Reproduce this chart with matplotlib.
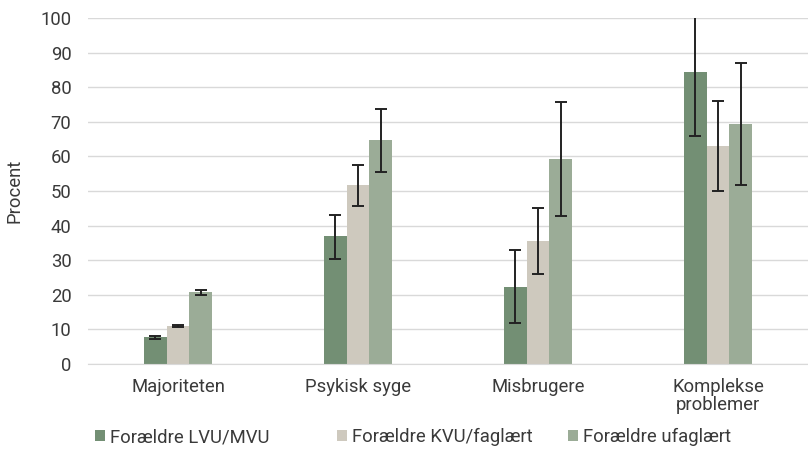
import matplotlib
matplotlib.use("Agg")
import matplotlib.pyplot as plt
import numpy as np

plt.rcParams['font.family'] = ['Roboto', 'DejaVu Sans']

categories = ["Majoriteten", "Psykisk syge", "Misbrugere", "Komplekse\nproblemer"]
series_names = ["Forældre LVU/MVU", "Forældre KVU/faglært", "Forældre ufaglært"]
values = [
    [7.7, 37.0, 22.3, 84.4],
    [11.0, 51.7, 35.6, 63.0],
    [20.7, 64.7, 59.2, 69.3],
]
err_low = [
    [7.3, 30.5, 11.8, 65.9],
    [10.6, 45.8, 26.0, 50.0],
    [19.9, 55.5, 42.8, 51.7],
]
err_high = [
    [8.2, 43.0, 33.0, 102.9],
    [11.4, 57.5, 45.2, 76.1],
    [21.5, 73.7, 75.7, 87.1],
]
colors = ["#738F74", "#CEC9BE", "#9BAC97"]
text_color = "#3A3A3A"
fs = 13.3

fig = plt.figure(figsize=(8.08, 4.5), dpi=100)
ax = fig.add_axes([0.109, 0.191, 0.891, 0.769])

x = np.arange(len(categories))
w = 0.127
bars = []
for i in range(3):
    v = np.array(values[i])
    lo = v - np.array(err_low[i])
    hi = np.array(err_high[i]) - v
    b = ax.bar(x + (i - 1) * w, v, width=w, color=colors[i], label=series_names[i], zorder=2)
    bars.append(b)
    ax.errorbar(x + (i - 1) * w, v, yerr=[lo, hi], fmt='none', ecolor='#222222',
                elinewidth=1.4, capsize=4.5, capthick=1.4, zorder=3)

ax.set_xlim(-0.5, 3.5)
ax.set_ylim(0, 100)
ax.set_yticks(np.arange(0, 101, 10))
ax.set_xticks(x)
ax.set_xticklabels(categories, linespacing=1.0)
ax.yaxis.grid(True, color="#D9D9D9", linewidth=1, zorder=0)
ax.set_axisbelow(True)
for s in ["top", "right", "left"]:
    ax.spines[s].set_visible(False)
ax.spines["bottom"].set_color("#D9D9D9")
ax.tick_params(axis='both', length=0, labelsize=fs, colors=text_color)
ax.tick_params(axis='x', pad=10)
ax.tick_params(axis='y', pad=12)
ax.set_ylabel("Procent", fontsize=fs, color=text_color, labelpad=12)

leg_x = [95, 337, 568]
for i in range(3):
    fig.legend([bars[i]], [series_names[i]], loc='center left',
               bbox_to_anchor=(leg_x[i] / 808, 1 - 437 / 450),
               frameon=False, fontsize=fs, handlelength=0.55, handleheight=0.55,
               handletextpad=0.25, borderpad=0, borderaxespad=0, labelcolor=text_color)

fig.savefig("out.png", dpi=100)
